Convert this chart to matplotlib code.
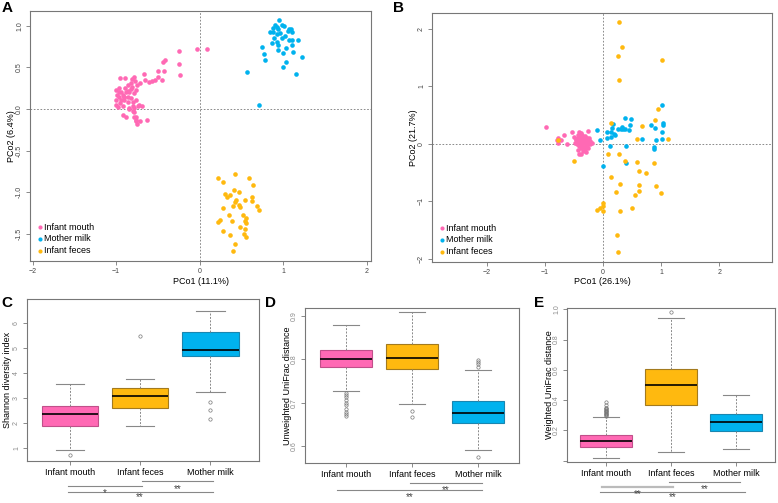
import numpy as np
import matplotlib
matplotlib.use('Agg')
import matplotlib.pyplot as plt
from matplotlib import transforms

plt.rcParams['font.family'] = ['Liberation Sans', 'DejaVu Sans']

W, H = 778, 503
pink = '#FF69B4'
blue = '#00B2EE'
orange = '#FFB90F'
groups = ['Infant mouth', 'Mother milk', 'Infant feces']
box_groups = ['Infant mouth', 'Infant feces', 'Mother milk']

# ---- panel A: PCoA unweighted
a_mouth_x = [0.09, -0.03, -0.25, -0.25, -0.24, -0.41, -0.44, -0.43, -0.50, -0.45, -0.50, -0.53, -0.57, -0.61,
             -0.67, -0.66, -0.71, -0.77, -0.75, -0.81, -0.78, -0.76, -0.82, -0.81, -0.86, -0.95, -0.89, -1.00,
             -0.97, -0.99, -0.96, -1.00, -0.92, -0.91, -0.89, -0.88, -0.86, -0.90, -0.94, -0.95, -0.98, -1.00,
             -0.92, -0.86, -0.82, -0.80, -0.76, -0.80, -0.78, -0.84, -0.72, -0.69, -0.74, -0.84, -0.80, -0.78,
             -0.92, -0.88, -0.78, -0.76, -0.76, -0.75, -0.71, -0.63, -0.76, -0.84, -0.78, -0.96, -0.82, -0.86,
             -0.90, -0.94]
a_mouth_y = [0.72, 0.72, 0.70, 0.54, 0.41, 0.59, 0.56, 0.46, 0.46, 0.35, 0.38, 0.35, 0.34, 0.32,
             0.42, 0.35, 0.31, 0.34, 0.29, 0.36, 0.39, 0.23, 0.24, 0.27, 0.22, 0.37, 0.37, 0.23,
             0.21, 0.17, 0.14, 0.11, 0.17, 0.14, 0.25, 0.20, 0.15, 0.11, 0.11, 0.07, 0.03, 0.05,
             0.04, 0.09, 0.13, 0.09, 0.11, 0.04, 0.01, 0.01, 0.05, 0.04, 0.04, 0.00, -0.03, -0.04,
             -0.07, -0.10, -0.10, -0.10, -0.13, -0.18, -0.15, -0.13, -0.15, 0.21, 0.19, 0.25, 0.31, 0.29,
             0.15, 0.20]
a_milk_x = [0.95, 0.90, 0.92, 0.98, 1.01, 0.94, 0.88, 0.84, 1.07, 1.09, 1.10, 1.06, 0.92, 0.99, 1.07, 1.11,
            1.18, 0.89, 0.86, 0.94, 1.11, 0.75, 1.03, 0.94, 1.00, 1.12, 0.77, 1.22, 0.78, 1.03, 1.00, 1.15,
            0.57, 0.71, 0.96, 1.02, 0.92, 0.88]
a_milk_y = [1.07, 1.01, 0.99, 1.01, 1.00, 0.96, 0.93, 0.93, 0.96, 0.96, 0.93, 0.94, 0.90, 0.86, 0.83, 0.83,
            0.83, 0.86, 0.80, 0.77, 0.77, 0.75, 0.73, 0.71, 0.68, 0.69, 0.66, 0.63, 0.59, 0.56, 0.51, 0.42,
            0.44, 0.05, 0.92, 0.88, 0.81, 0.98]
a_feces_x = [0.42, 0.22, 0.59, 0.28, 0.64, 0.30, 0.41, 0.47, 0.36, 0.33, 0.63, 0.54, 0.43, 0.63, 0.42, 0.47,
             0.48, 0.69, 0.40, 0.28, 0.71, 0.35, 0.52, 0.56, 0.24, 0.22, 0.39, 0.54, 0.56, 0.48, 0.54, 0.28,
             0.53, 0.56, 0.36, 0.42, 0.40]
a_feces_y = [-0.78, -0.83, -0.83, -0.88, -0.92, -1.02, -0.97, -1.00, -1.04, -1.06, -1.06, -1.09, -1.09, -1.11,
             -1.12, -1.15, -1.18, -1.17, -1.17, -1.19, -1.22, -1.28, -1.28, -1.31, -1.34, -1.36, -1.35, -1.35,
             -1.37, -1.42, -1.44, -1.47, -1.51, -1.54, -1.52, -1.63, -1.71]

# ---- panel B: PCoA weighted
b_mouth_x = [-0.98, -0.78, -0.79, -0.78, -0.72, -0.67, -0.62, -0.53, -0.50, -0.49, -0.46, -0.45, -0.44, -0.43,
             -0.42, -0.41, -0.40, -0.40, -0.39, -0.39, -0.38, -0.38, -0.37, -0.36, -0.36, -0.35, -0.35, -0.34,
             -0.34, -0.33, -0.33, -0.32, -0.31, -0.31, -0.30, -0.30, -0.29, -0.28, -0.28, -0.27, -0.26, -0.26,
             -0.25, -0.24, -0.23, -0.22, -0.20, -0.42, -0.38, -0.44, -0.47, -0.41]
b_mouth_y = [0.30, 0.11, 0.06, 0.02, 0.07, 0.16, 0.00, 0.20, 0.12, 0.02, 0.06, -0.01, 0.10, 0.15,
             0.04, -0.04, 0.08, 0.13, 0.18, 0.00, -0.08, 0.05, 0.10, 0.15, -0.02, 0.02, 0.07, -0.12,
             0.12, -0.05, 0.03, 0.09, 0.14, -0.09, 0.00, 0.05, -0.15, 0.11, -0.03, 0.07, 0.22, -0.07,
             0.02, 0.10, -0.01, 0.05, 0.01, -0.18, -0.17, -0.10, 0.09, 0.20]
b_milk_x = [-0.10, -0.06, -0.01, 0.07, 0.06, 0.11, 0.13, 0.14, 0.15, 0.17, 0.19, 0.21, 0.26, 0.30, 0.33, 0.37,
            0.38, 0.40, 0.39, 0.45, 0.46, 0.48, 0.67, 0.82, 0.87, 0.88, 0.90, 0.91, 1.01, 1.01, 1.02, 1.03,
            1.03, 0.35]
b_milk_y = [0.24, 0.06, -0.38, 0.20, 0.11, -0.03, 0.12, 0.20, 0.28, 0.34, 0.17, 0.16, 0.26, 0.25, 0.29, 0.44,
            0.26, -0.03, -0.34, 0.24, 0.32, 0.43, 0.08, 0.32, -0.09, -0.05, 0.28, 0.06, 0.67, 0.08, 0.20, 0.37,
            0.32, 0.26]
b_feces_x = [0.28, 0.33, 0.26, 1.01, 0.27, 0.95, 0.89, 0.14, 0.67, 1.11, 0.59, -0.78, 0.09, 0.28, -0.51, 0.38,
             0.59, 0.88, 0.62, 0.73, 0.13, 0.29, 0.61, 0.91, 0.22, 0.61, 0.55, 1.00, -0.01, -0.01, 0.50, -0.10,
             -0.05, -0.01, 0.29, 0.23, 0.26]
b_feces_y = [2.11, 1.68, 1.52, 1.46, 1.10, 0.61, 0.42, 0.37, 0.31, 0.08, 0.08, 0.07, -0.17, -0.18, -0.29, -0.30,
             -0.32, -0.34, -0.47, -0.51, -0.57, -0.69, -0.72, -0.74, -0.84, -0.82, -0.89, -0.86, -1.02, -1.07,
             -1.11, -1.15, -1.11, -1.17, -1.16, -1.59, -1.87]

# ---- panel C/D/E box stats (order: Infant mouth, Infant feces, Mother milk)
c_med = [2.36, 3.10, 4.92]
c_q1 = [1.88, 2.60, 4.68]
c_q3 = [2.68, 3.40, 5.64]
c_lo = [0.92, 1.87, 3.26]
c_hi = [3.56, 3.76, 6.48]
c_out = [[0.72], [5.48], [2.86, 2.53, 2.16]]

d_med = [0.801, 0.802, 0.676]
d_q1 = [0.782, 0.777, 0.654]
d_q3 = [0.821, 0.835, 0.703]
d_lo = [0.726, 0.696, 0.592]
d_hi = [0.878, 0.908, 0.776]
d_out = [[0.723, 0.718, 0.713, 0.706, 0.700, 0.694, 0.686, 0.679, 0.674, 0.669],
         [0.681, 0.666],
         [0.798, 0.793, 0.788, 0.782, 0.575]]

e_med = [0.129, 0.500, 0.258]
e_q1 = [0.093, 0.367, 0.193]
e_q3 = [0.171, 0.604, 0.309]
e_lo = [0.018, 0.056, 0.080]
e_hi = [0.289, 0.940, 0.433]
e_out = [[0.295, 0.30, 0.305, 0.31, 0.315, 0.32, 0.325, 0.33, 0.335, 0.34, 0.345, 0.35, 0.37, 0.385],
         [0.98],
         []]

fig = plt.figure(figsize=(W / 100, H / 100), dpi=100)


def add_ax(l, t, r, b):
    return fig.add_axes([l / W, 1 - b / H, (r - l) / W, (b - t) / H])


def fy(y):
    return 1 - y / H


def style(ax, lab_color='#444444', lab_size=5):
    for s in ax.spines.values():
        s.set_color('#777777')
        s.set_linewidth(0.8)
    ax.tick_params(length=3, width=0.6, color='#777777', labelsize=lab_size,
                   labelcolor=lab_color, pad=2)
    for t in ax.get_yticklabels():
        t.set_rotation(90)
        t.set_va('center')


def scatter_panel(ax, data, xlim, ylim, yticks, ylabel, xlabel, yl_x, xl_y):
    for (x, y), c, g in zip(data, [pink, blue, orange], groups):
        ax.scatter(x, y, s=11, color=c, linewidths=0, label=g, zorder=3)
    ax.axhline(0, color='#777777', lw=0.6, ls=(0, (2, 2)), zorder=1)
    ax.axvline(0, color='#777777', lw=0.6, ls=(0, (2, 2)), zorder=1)
    ax.set_xlim(xlim)
    ax.set_ylim(ylim)
    ax.set_xticks([-2, -1, 0, 1, 2])
    ax.set_yticks(yticks)
    style(ax)
    ax.legend(loc='lower left', bbox_to_anchor=(-0.012, -0.005), frameon=False, fontsize=6.5,
              handletextpad=-0.4, handlelength=1.6, labelspacing=0.3, borderpad=0.3,
              markerscale=0.9)
    pos = ax.get_position()
    fig.text(pos.x0 + pos.width / 2, fy(xl_y), xlabel, ha='center', va='center', fontsize=6.5)
    fig.text(yl_x / W, pos.y0 + pos.height / 2, ylabel, ha='center', va='center', rotation=90,
             fontsize=6.5)


axA = add_ax(30, 11, 371, 261)
scatter_panel(axA, [(a_mouth_x, a_mouth_y), (a_milk_x, a_milk_y), (a_feces_x, a_feces_y)],
              (-2.03, 2.05), (-1.83, 1.18), [-1.5, -1.0, -0.5, 0.0, 0.5, 1.0],
              'PCo2 (6.4%)', 'PCo1 (11.1%)', 12, 281)
axA.set_yticklabels(['-1.5', '-1.0', '-0.5', '0.0', '0.5', '1.0'])

axB = add_ax(432, 13, 772, 262)
scatter_panel(axB, [(b_mouth_x, b_mouth_y), (b_milk_x, b_milk_y), (b_feces_x, b_feces_y)],
              (-2.95, 2.91), (-2.05, 2.27), [-2, -1, 0, 1, 2],
              'PCo2 (21.7%)', 'PCo1 (26.1%)', 413, 281)


def box_panel(ax, med, q1, q3, lo, hi, out, xlim, ylim, yticks, yticklabels, ylabel, yl_x):
    stats = []
    for i in range(3):
        stats.append(dict(med=med[i], q1=q1[i], q3=q3[i], whislo=lo[i], whishi=hi[i],
                          fliers=out[i], label=box_groups[i]))
    bp = ax.bxp(stats, positions=[1, 2, 3], widths=0.8, patch_artist=True, capwidths=0.4,
                medianprops=dict(color='black', lw=1.2),
                whiskerprops=dict(color='#888888', lw=0.7, ls=(0, (2, 1.5))),
                capprops=dict(color='#888888', lw=0.8),
                flierprops=dict(marker='o', markersize=2.4, markerfacecolor='none',
                                markeredgecolor='#777777', markeredgewidth=0.5))
    for p, fc, ec in zip(bp['boxes'], [pink, orange, blue], ['#C0508A', '#A37A1E', '#1A86B0']):
        p.set_facecolor(fc)
        p.set_edgecolor(ec)
        p.set_linewidth(0.8)
    ax.set_xlim(xlim)
    ax.set_ylim(ylim)
    ax.set_yticks(yticks)
    ax.set_yticklabels(yticklabels)
    style(ax, lab_color='#8a8a8a', lab_size=5)
    ax.tick_params(axis='x', labelsize=6.5, labelcolor='black', pad=2)
    pos = ax.get_position()
    fig.text(yl_x / W, pos.y0 + pos.height / 2, ylabel, ha='center', va='center', rotation=90,
             fontsize=6.5)


def sig(ax, x1, x2, y, txt, ty, color='#888888', lw=0.8):
    # line under the group pair, asterisks just below it (baseline kept inside the figure)
    tr = transforms.blended_transform_factory(ax.transData, fig.transFigure)
    ax.plot([x1, x2], [fy(y), fy(y)], color=color, lw=lw, transform=tr, clip_on=False)
    base = min(ty + 5.6, 500.5)
    ax.text((x1 + x2) / 2, fy(base), txt, transform=tr, ha='center', va='baseline', fontsize=7,
            color='#444444')


axC = add_ax(27, 299, 259, 461)
box_panel(axC, c_med, c_q1, c_q3, c_lo, c_hi, c_out, (0.39, 3.69), (0.49, 6.95),
          [1, 2, 3, 4, 5, 6], ['1', '2', '3', '4', '5', '6'], 'Shannon diversity index', 8)
sig(axC, 2.03, 3.03, 481, '**', 486)
sig(axC, 0.97, 2.03, 486, '*', 490)
sig(axC, 0.97, 3.03, 492, '**', 497)

axD = add_ax(305, 308, 519, 463)
box_panel(axD, d_med, d_q1, d_q3, d_lo, d_hi, d_out, (0.38, 3.62), (0.561, 0.918),
          [0.6, 0.7, 0.8, 0.9], ['0.6', '0.7', '0.8', '0.9'], 'Unweighted UniFrac distance', 287)
sig(axD, 1.97, 3.06, 483, '**', 487)
sig(axD, 0.86, 3.06, 490, '**', 495)

axE = add_ax(567, 308, 775, 462)
box_panel(axE, e_med, e_q1, e_q3, e_lo, e_hi, e_out, (0.4, 3.6), (-0.009, 1.009),
          [0.0, 0.2, 0.4, 0.6, 0.8, 1.0], ['', '0.2', '0.4', '0.6', '0.8', '1.0'],
          'Weighted UniFrac distance', 550)
sig(axE, 1.97, 3.06, 482, '**', 486)
sig(axE, 0.94, 2.03, 487, '**', 491, color='#BBBBBB', lw=1.6)
sig(axE, 0.9, 3.14, 492, '**', 497)

for lab, x, y in [('A', 7, 8), ('B', 399, 8), ('C', 7, 303), ('D', 271, 303), ('E', 539, 303)]:
    fig.text(x / W, fy(y), lab, ha='center', va='center', fontsize=11, fontweight='bold')

fig.savefig('out.png', dpi=100)
